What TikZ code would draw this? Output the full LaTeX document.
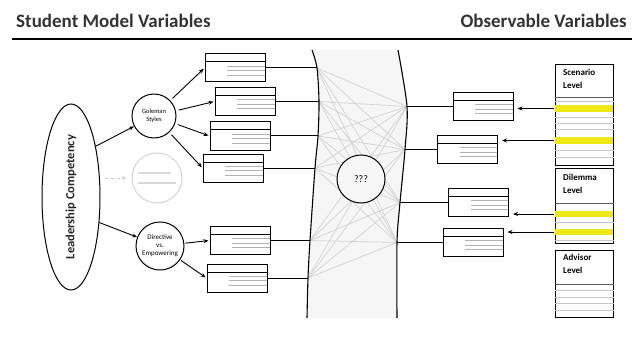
\documentclass[tikz,border=0pt]{standalone}
\usepackage{fontspec}
\setmainfont{Carlito}
\usepackage{tikz}
\usetikzlibrary{arrows.meta,shapes.geometric}
\definecolor{band}{RGB}{238,232,25}
\tikzset{
  varbox/.style={draw,line width=1pt,fill=white,minimum width=60pt,minimum height=28pt,inner sep=0pt,
    path picture={
      \draw[line width=1pt]([yshift=-8pt]path picture bounding box.north west)--([yshift=-8pt]path picture bounding box.north east);
      \foreach \d in {12,16.5,21}
        \draw[gray!60,line width=0.6pt]([xshift=22pt,yshift=-\d pt]path picture bounding box.north west)--([yshift=-\d pt]path picture bounding box.north east);
    }},
  factor/.style={draw,circle,line width=1pt,inner sep=0pt,align=center,font=\fontsize{6.5}{7.5}\selectfont},
  levelbox/.style={draw,line width=1pt,minimum width=58pt,inner sep=0pt},
  leveltext/.style={anchor=north west,align=left,inner sep=0pt,font=\bfseries\fontsize{9}{12.5}\selectfont},
  heading/.style={inner sep=0pt,text=black!80,font=\bfseries\fontsize{19}{21}\selectfont},
  rowline/.style={gray!45,line width=0.6pt},
  link/.style={-{Stealth[length=5pt,width=4pt]},line width=0.9pt},
  mesh/.style={gray!35,line width=0.7pt}
}
\begin{document}
\begin{tikzpicture}[x=1pt,y=-1pt]
\useasboundingbox (0,0) rectangle (638,337);
\node[heading,anchor=base west] (smv) at (16,28) {Student Model Variables};
\node[heading,anchor=base east] (obv) at (627,28) {Observable Variables};
\draw[line width=2pt] (12,39.5) -- (632,39.5);
% middle band
\fill[gray!7] plot[smooth] coordinates {(312,50) (317,68) (319,101.5) (318,136) (315,168) (310,240.5) (308,278) (307,318)}
  -- plot[smooth] coordinates {(397,318) (397,242.5) (400,202.5) (405,149.5) (407,106.5) (398,50)} -- cycle;
\coordinate (l1) at (317,68);
\coordinate (l2) at (319,101.5);
\coordinate (l3) at (318,136);
\coordinate (l4) at (315,168);
\coordinate (l5) at (310,240.5);
\coordinate (l6) at (308,278);
\coordinate (r1) at (407,106.5);
\coordinate (r2) at (405,149.5);
\coordinate (r3) at (400,202.5);
\coordinate (r4) at (397,242.5);
\foreach \i in {1,...,6}
  \foreach \j in {1,...,4}
    \draw[mesh] (l\i) -- (r\j);
\draw[line width=1.1pt] plot[smooth] coordinates {(312,50) (317,68) (319,101.5) (318,136) (315,168) (310,240.5) (308,278) (307,318)};
\draw[line width=1.1pt] plot[smooth] coordinates {(398,50) (407,106.5) (405,149.5) (400,202.5) (397,242.5) (397,318)};
\node[factor,fill=gray!7,minimum size=48pt,font=\fontsize{10}{12}\selectfont] (unk) at (361,179) {???};
% student model
\node[draw,ellipse,line width=1pt,minimum width=58pt,minimum height=186pt,inner sep=0pt] (lc) at (71,197)
  {\rotatebox{90}{\bfseries\fontsize{12.5}{14}\selectfont\color{black!85}Leadership Competency}};
\node[factor,minimum size=44pt] (gol) at (154,116) {Goleman\\Styles};
\node[factor,draw=gray!35,minimum size=50pt] (ghost) at (157,178) {};
\draw[gray!30,line width=1.2pt] ([xshift=-19pt,yshift=5pt]ghost.center) -- ++(33,0);
\draw[gray!30,line width=1.2pt] ([xshift=-19pt,yshift=-5pt]ghost.center) -- ++(38,0);
\node[factor,minimum size=48pt,font=\fontsize{7}{8}\selectfont] (dir) at (160,246) {Directive\\vs.\\Empowering};
\draw[link] (lc.64) -- (gol);
\draw[link] (lc.-42) -- (dir);
\draw[link,gray!40,dashed] ([xshift=-27pt]ghost.west) -- ([xshift=-5pt]ghost.west);
\node[varbox] (lb1) at (235,68) {};
\node[varbox] (lb2) at (245,101.5) {};
\node[varbox] (lb3) at (240,136) {};
\node[varbox] (lb4) at (233,168) {};
\node[varbox] (lb5) at (240,240.5) {};
\node[varbox] (lb6) at (237,278) {};
\foreach \b in {1,...,4}
  \draw[link,shorten <=3pt,shorten >=1pt] (gol) -- (lb\b.west);
\foreach \b in {5,6}
  \draw[link,shorten <=1pt,shorten >=1pt] (dir) -- (lb\b.west);
\foreach \b in {1,...,6}
  \draw[line width=1pt] (lb\b.east) -- (l\b);
% observables
\node[varbox] (rb1) at (483,106.5) {};
\node[varbox] (rb2) at (467.5,149.5) {};
\node[varbox] (rb3) at (478.5,202.5) {};
\node[varbox] (rb4) at (473,242.5) {};
\foreach \b in {1,...,4}
  \draw[line width=1pt] (r\b) -- (rb\b.west);
\node[levelbox,minimum height=100pt] (scen) at (584,115) {};
\node[levelbox,minimum height=75pt] (dil) at (584,205.5) {};
\node[levelbox,minimum height=67pt] (adv) at (584,283.5) {};
\node[leveltext] (scent) at (563,69) {Scenario\\Level};
\node[leveltext] (dilt) at (563,174) {Dilemma\\Level};
\node[leveltext] (advt) at (563,254) {Advisor\\Level};
\draw[gray!70!black,line width=0.7pt] (scen.west |- 0,97) -- (scen.east |- 0,97);
\draw[gray!70!black,line width=0.7pt] (dil.west |- 0,203) -- (dil.east |- 0,203);
\draw[gray!70!black,line width=0.7pt] (adv.west |- 0,284) -- (adv.east |- 0,284);
\foreach \y in {101,117,123,129,150,157}
  \draw[rowline] (scen.west |- 0,\y) -- (scen.east |- 0,\y);
\foreach \y in {222,240}
  \draw[rowline] (dil.west |- 0,\y) -- (dil.east |- 0,\y);
\foreach \y in {290,297,303,310}
  \draw[rowline] (adv.west |- 0,\y) -- (adv.east |- 0,\y);
\fill[band] ([xshift=0.5pt]scen.west |- 0,105) rectangle ([xshift=-0.5pt]scen.east |- 0,112);
\fill[band] ([xshift=0.5pt]scen.west |- 0,137) rectangle ([xshift=-0.5pt]scen.east |- 0,144);
\fill[band] ([xshift=0.5pt]dil.west |- 0,211) rectangle ([xshift=-0.5pt]dil.east |- 0,217);
\fill[band] ([xshift=0.5pt]dil.west |- 0,229) rectangle ([xshift=-0.5pt]dil.east |- 0,235);
\coordinate (b1) at (554,108.5);
\coordinate (b2) at (554,140.5);
\coordinate (b3) at (554,214);
\coordinate (b4) at (554,232);
\foreach \b in {1,...,4}
  \draw[link,shorten >=4pt] (b\b) -- (rb\b.east |- b\b);
\end{tikzpicture}
\end{document}
